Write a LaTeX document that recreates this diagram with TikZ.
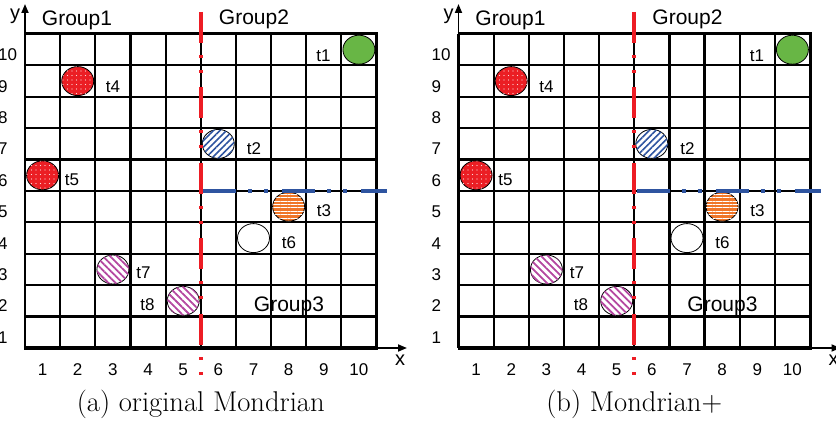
\documentclass[tikz,border=0pt]{standalone}
\usepackage{fontspec}
\newfontfamily\arialfont{Liberation Sans}
\usetikzlibrary{arrows.meta,patterns.meta,shapes.geometric}

\definecolor{splitred}{RGB}{237,28,36}
\definecolor{splitblue}{RGB}{46,84,160}
\definecolor{dotred}{RGB}{235,30,36}
\definecolor{leafgreen}{RGB}{104,182,69}
\definecolor{stripeorange}{RGB}{240,118,40}
\definecolor{stripemagenta}{RGB}{180,70,160}

\begin{document}
\begin{tikzpicture}[x=1pt,y=-1pt,
  gridline/.style={line width=2.2pt,black},
  border/.style={line width=3pt,black},
  axis/.style={line width=1.8pt,black,-{Triangle[length=9pt,width=7pt]}},
  lbl/.style={font=\arialfont\fontsize{17}{20}\selectfont,inner sep=0pt},
  grouplbl/.style={font=\arialfont\fontsize{21}{24}\selectfont,inner sep=0pt,anchor=base},
  axlbl/.style={font=\arialfont\fontsize{20}{24}\selectfont,inner sep=0pt},
  caption/.style={font=\fontsize{28.6}{32}\selectfont,inner sep=0pt,anchor=base},
  tuple/.style={ellipse,draw=black,line width=0.8pt,minimum width=32pt,minimum height=29pt,inner sep=0pt},
  reddash/.style={splitred,line width=3.6pt,dash pattern=on 31pt off 12pt on 3pt off 12pt on 3pt off 14.5pt},
  bluedash/.style={splitblue,line width=3.4pt,dash pattern=on 33pt off 12pt on 4pt off 12pt on 4pt off 14pt}
]
\useasboundingbox (0,0) rectangle (836,422);
\fill[white] (0,0) rectangle (836,422);

\foreach \p/\dx/\captext in {a/0/{(a) original Mondrian}, b/433.5/{(b) Mondrian+}}{
\begin{scope}[xshift=\dx pt]
  % axes
  \coordinate (\p-o) at (25,348);
  \coordinate (\p-ytip) at (25,4);
  \coordinate (\p-xtip) at (407,348);
  \draw[axis] (\p-o) -- (\p-ytip);
  \draw[axis] (\p-o) -- (\p-xtip);
  \node[axlbl] (\p-ylab) at (15,16) {y};
  \node[axlbl] (\p-xlab) at (400,360) {x};

  % 10 x 10 grid
  \foreach \i in {0,...,9}{
    \draw[gridline] ({25+\i*35.15},34) -- ({25+\i*35.15},348);
  }
  \foreach \j in {1,...,9}{
    \draw[gridline] (25,{34+\j*31.4}) -- (376.5,{34+\j*31.4});
  }
  \draw[border] (24,34) -- (377,34);
  \draw[border] (376.5,32.5) -- (376.5,348);
  \draw[line width=3.6pt] (24,348) -- (378,348);

  % tick labels
  \foreach \r in {1,...,10}{
    \node[lbl,anchor=base west] (\p-yt\r) at (-2,{359-(\r-0.5)*31.4}) {\r};
  }
  \foreach \c in {1,...,10}{
    \node[lbl,anchor=base] (\p-xt\c) at ({25+(\c-0.5)*35.15},375) {\c};
  }

  % group labels
  \node[grouplbl] (\p-g1) at (77,26) {Group1};
  \node[grouplbl] (\p-g2) at (254,25) {Group2};
  \node[grouplbl] (\p-g3) at (289,312) {Group3};

  % tuples
  \node[tuple,fill=leafgreen] (\p-t1) at (358.9,49.7) {};
  \node[tuple,fill=white,postaction={pattern={Lines[angle=45,distance=4.6pt,line width=1.6pt]},pattern color=splitblue}] (\p-t2) at (218.3,143.9) {};
  \node[tuple,fill=stripeorange,postaction={pattern={Lines[angle=0,distance=3.4pt,line width=0.8pt]},pattern color=white}] (\p-t3) at (288.6,206.7) {};
  \node[tuple,fill=dotred,postaction={pattern={Dots[distance=4.5pt,radius=0.55pt]},pattern color=white!85!dotred}] (\p-t4) at (77.7,81.1) {};
  \node[tuple,fill=dotred,postaction={pattern={Dots[distance=4.5pt,radius=0.55pt]},pattern color=white!85!dotred}] (\p-t5) at (42.6,175.3) {};
  \node[tuple,fill=white] (\p-t6) at (253.5,238.1) {};
  \node[tuple,fill=white,postaction={pattern={Lines[angle=-45,distance=5pt,line width=1.8pt]},pattern color=stripemagenta}] (\p-t7) at (112.9,269.5) {};
  \node[tuple,fill=white,postaction={pattern={Lines[angle=-45,distance=5pt,line width=1.8pt]},pattern color=stripemagenta}] (\p-t8) at (183.2,300.9) {};

  % tuple labels
  \node[lbl,anchor=base] (\p-l1) at (323.5,62) {t1};
  \node[lbl,anchor=base] (\p-l2) at (254,155) {t2};
  \node[lbl,anchor=base] (\p-l3) at (324,217) {t3};
  \node[lbl,anchor=base] (\p-l4) at (113,93) {t4};
  \node[lbl,anchor=base] (\p-l5) at (72,186) {t5};
  \node[lbl,anchor=base] (\p-l6) at (289,249) {t6};
  \node[lbl,anchor=base] (\p-l7) at (143.5,279) {t7};
  \node[lbl,anchor=base] (\p-l8) at (147.5,311) {t8};

  % split lines
  \coordinate (\p-rs) at (200.75,12);
  \coordinate (\p-re) at (200.75,377);
  \draw[reddash] (\p-rs) -- (\p-re);
  \coordinate (\p-bs) at (203,191);
  \coordinate (\p-be) at (387,191);
  \draw[bluedash] (\p-bs) -- (\p-be);

  % caption
  \node[caption] (\p-cap) at (200.75,411) {\captext};
\end{scope}
}
\end{tikzpicture}
\end{document}
